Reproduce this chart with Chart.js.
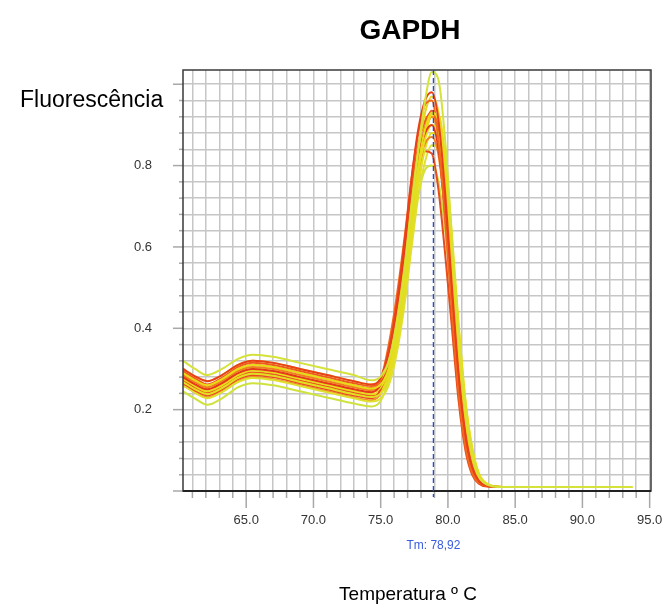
<!DOCTYPE html>
<html>
<head>
<meta charset="utf-8">
<script src="https://cdn.jsdelivr.net/npm/chart.js@4/dist/chart.umd.min.js"></script>
<style>
  html, body { margin: 0; padding: 0; background: #fff; }
  #wrap { position: relative; width: 664px; height: 614px; }
</style>
</head>
<body>
<div id="wrap"><canvas id="c" width="664" height="614"></canvas></div>
<script>
// temperaturas (eixo x)
const temps = [60.3, 61.2, 62.1, 63.2, 64.4, 65.5, 67, 69, 71, 73, 74.3, 75.0, 75.6, 76.2, 76.8, 77.3, 77.8, 78.3, 78.8, 79.3, 79.8, 80.3, 80.8, 81.3, 81.8, 82.3, 82.9, 84, 87, 90, 93.7];
const tempsR = [60.3, 61.2, 62.1, 63.2, 64.4, 65.5, 67, 69, 71, 73, 74.3, 75.0, 75.6, 76.2, 76.8, 77.3, 77.8, 78.3, 78.8, 79.3, 79.8, 80.3, 80.8, 81.3, 81.8, 82.3, 82.9, 84, 87, 90, 92.9];

// curvas de melting
const r1 = [0.280,0.262,0.250,0.265,0.290,0.300,0.295,0.280,0.265,0.250,0.243,0.262,0.330,0.440,0.590,0.720,0.820,0.880,0.900,0.840,0.680,0.470,0.270,0.130,0.055,0.022,0.012,0.010,0.010,0.010,0.010];
const r2 = [0.290,0.272,0.260,0.275,0.300,0.310,0.305,0.290,0.275,0.260,0.253,0.275,0.360,0.480,0.630,0.770,0.880,0.950,0.960,0.860,0.660,0.440,0.240,0.110,0.045,0.020,0.012,0.010,0.010,0.010,0.010];
const r3 = [0.265,0.247,0.235,0.250,0.275,0.285,0.280,0.265,0.250,0.235,0.228,0.250,0.320,0.440,0.580,0.700,0.790,0.835,0.830,0.740,0.580,0.400,0.220,0.100,0.040,0.018,0.011,0.010,0.010,0.010,0.010];
const r4 = [0.300,0.282,0.270,0.285,0.310,0.320,0.315,0.300,0.285,0.270,0.262,0.278,0.345,0.460,0.620,0.770,0.890,0.960,0.980,0.910,0.730,0.500,0.285,0.140,0.060,0.025,0.013,0.010,0.010,0.010,0.010];
const r5 = [0.260,0.242,0.230,0.245,0.270,0.280,0.275,0.260,0.245,0.230,0.223,0.240,0.300,0.410,0.560,0.700,0.810,0.880,0.920,0.870,0.720,0.510,0.300,0.150,0.065,0.027,0.013,0.010,0.010,0.010,0.010];
const r6 = [0.285,0.267,0.255,0.270,0.295,0.305,0.300,0.285,0.270,0.255,0.248,0.262,0.325,0.430,0.575,0.705,0.800,0.855,0.870,0.825,0.680,0.480,0.285,0.140,0.060,0.024,0.012,0.010,0.010,0.010,0.010];
const r7 = [0.272,0.254,0.242,0.257,0.282,0.292,0.287,0.272,0.257,0.242,0.235,0.250,0.305,0.405,0.550,0.695,0.815,0.895,0.935,0.900,0.760,0.550,0.330,0.170,0.075,0.030,0.014,0.010,0.010,0.010,0.010];
const r8 = [0.295,0.277,0.262,0.278,0.305,0.315,0.310,0.295,0.280,0.265,0.258,0.272,0.340,0.455,0.605,0.745,0.850,0.910,0.930,0.880,0.730,0.520,0.310,0.155,0.066,0.027,0.013,0.010,0.010,0.010,0.010];

const y1 = [0.320,0.300,0.285,0.300,0.325,0.335,0.330,0.315,0.300,0.285,0.272,0.282,0.320,0.410,0.550,0.700,0.840,0.960,1.030,1.010,0.860,0.620,0.380,0.200,0.090,0.036,0.016,0.010,0.010,0.010,0.010];
const y2 = [0.245,0.227,0.212,0.228,0.255,0.265,0.260,0.245,0.230,0.215,0.208,0.222,0.275,0.370,0.500,0.630,0.730,0.790,0.800,0.760,0.640,0.460,0.280,0.140,0.060,0.025,0.012,0.010,0.010,0.010,0.010];
const y3 = [0.290,0.272,0.260,0.275,0.300,0.310,0.305,0.290,0.275,0.260,0.252,0.262,0.300,0.390,0.525,0.670,0.800,0.890,0.930,0.910,0.790,0.590,0.370,0.195,0.088,0.035,0.015,0.010,0.010,0.010,0.010];
const y4 = [0.268,0.250,0.238,0.253,0.278,0.288,0.283,0.268,0.253,0.238,0.231,0.240,0.275,0.360,0.490,0.630,0.755,0.840,0.880,0.870,0.770,0.590,0.380,0.205,0.095,0.038,0.016,0.010,0.010,0.010,0.010];
const y5 = [0.300,0.282,0.270,0.285,0.310,0.320,0.315,0.300,0.285,0.270,0.262,0.275,0.320,0.420,0.560,0.710,0.840,0.930,0.970,0.930,0.780,0.560,0.340,0.175,0.078,0.032,0.014,0.010,0.010,0.010,0.010];
const y6 = [0.260,0.242,0.228,0.243,0.268,0.278,0.273,0.258,0.243,0.228,0.220,0.228,0.260,0.340,0.465,0.600,0.725,0.810,0.850,0.845,0.760,0.600,0.400,0.220,0.105,0.042,0.017,0.010,0.010,0.010,0.010];
const y7 = [0.280,0.262,0.250,0.265,0.290,0.300,0.295,0.280,0.265,0.250,0.243,0.255,0.300,0.390,0.525,0.665,0.785,0.865,0.900,0.875,0.750,0.550,0.340,0.180,0.080,0.032,0.014,0.010,0.010,0.010,0.010];
const y8 = [0.276,0.258,0.245,0.260,0.285,0.296,0.291,0.276,0.261,0.246,0.238,0.246,0.285,0.370,0.500,0.645,0.775,0.870,0.925,0.925,0.820,0.630,0.410,0.225,0.108,0.044,0.018,0.010,0.010,0.010,0.010];

const tm = 78.92;

// ordem: o primeiro fica por cima
const series = [
  [y1, '#d4e23a', temps], [r4, '#e8401c', tempsR], [y3, '#e8dc18', temps], [r2, '#f06a1e', tempsR],
  [y5, '#ecd21a', temps], [r1, '#e6381a', tempsR], [y7, '#e4e020', temps], [r6, '#f0801e', tempsR],
  [y4, '#e2de22', temps], [r3, '#e84c1c', tempsR], [y8, '#eadc1c', temps], [r8, '#ee5a1c', tempsR],
  [y6, '#dfe030', temps], [r5, '#f29020', tempsR], [r7, '#ea5a1c', tempsR], [y2, '#cfe23e', temps]
];

const datasets = series.map(function (s, i) {
  return {
    label: 'amostra ' + (i + 1),
    data: s[2].map(function (t, j) { return { x: t, y: s[0][j] }; }),
    borderColor: s[1],
    borderWidth: 2,
    pointRadius: 0,
    cubicInterpolationMode: 'monotone',
    fill: false
  };
});

const extras = {
  id: 'extras',
  afterDraw(chart) {
    const ctx = chart.ctx;
    const a = chart.chartArea;
    const x = chart.scales.x, y = chart.scales.y;
    ctx.save();
    // marcas dos eixos
    ctx.strokeStyle = '#a8a8a8';
    ctx.lineWidth = 1.5;
    x.ticks.forEach(function (t) {
      const px = x.getPixelForValue(t.value);
      const len = t.value % 5 === 0 ? 17 : 7;
      ctx.beginPath(); ctx.moveTo(px, a.bottom); ctx.lineTo(px, a.bottom + len); ctx.stroke();
    });
    y.ticks.forEach(function (t) {
      const py = y.getPixelForValue(t.value);
      const major = Math.round(t.value * 100) % 20 === 0;
      const len = major ? 10 : 4;
      ctx.beginPath(); ctx.moveTo(a.left - len, py); ctx.lineTo(a.left, py); ctx.stroke();
    });
    // moldura
    ctx.strokeStyle = '#3a3a3a';
    ctx.lineWidth = 1.5;
    ctx.strokeRect(a.left, a.top, a.right - a.left, a.bottom - a.top);
    ctx.strokeStyle = '#222';
    ctx.lineWidth = 2;
    ctx.beginPath(); ctx.moveTo(a.left, a.bottom); ctx.lineTo(a.right, a.bottom); ctx.stroke();
    // linha Tm
    const tx = x.getPixelForValue(tm);
    ctx.strokeStyle = '#2448e0';
    ctx.lineWidth = 1.3;
    ctx.setLineDash([5, 3]);
    ctx.beginPath(); ctx.moveTo(tx, a.top); ctx.lineTo(tx, a.bottom + 6); ctx.stroke();
    ctx.setLineDash([]);
    ctx.fillStyle = '#3a5ce0';
    ctx.font = '12px "Liberation Sans", Arial, sans-serif';
    ctx.textAlign = 'center';
    ctx.textBaseline = 'middle';
    ctx.fillText('Tm: ' + tm.toFixed(2).replace('.', ','), tx, 546);
    // textos
    ctx.fillStyle = '#000';
    ctx.font = 'bold 28px "Liberation Sans", Arial, sans-serif';
    ctx.fillText('GAPDH', 410, 31);
    ctx.font = '23px "Liberation Sans", Arial, sans-serif';
    ctx.textAlign = 'left';
    ctx.fillText('Fluorescência', 20, 101);
    ctx.textAlign = 'center';
    ctx.font = '19px "Liberation Sans", Arial, sans-serif';
    ctx.fillText('Temperatura º C', 408, 595);
    ctx.restore();
  }
};

const tickFont = { family: '"Liberation Sans", Arial, sans-serif', size: 13 };

new Chart(document.getElementById('c'), {
  type: 'line',
  data: { datasets: datasets },
  options: {
    responsive: false,
    animation: false,
    layout: { padding: { left: 133, top: 70, right: 13, bottom: 87 } },
    plugins: { legend: { display: false }, tooltip: { enabled: false } },
    scales: {
      x: {
        type: 'linear',
        min: 60.3,
        max: 95.1,
        border: { display: false },
        grid: { color: '#c6c6c6', lineWidth: 1.5, drawTicks: false },
        afterFit: function (s) { s.height = 36; s.paddingLeft = 0; s.paddingRight = 0; },
        ticks: {
          stepSize: 1,
          includeBounds: false,
          autoSkip: false,
          maxRotation: 0,
          padding: 22,
          color: '#333',
          font: tickFont,
          callback: function (v) { return v % 5 === 0 ? v.toFixed(1) : ''; }
        }
      },
      y: {
        min: 0,
        max: 1.035,
        border: { display: false },
        grid: { color: '#c6c6c6', lineWidth: 1.5, drawTicks: false },
        afterFit: function (s) { s.width = 50; s.paddingTop = 0; s.paddingBottom = 0; },
        ticks: {
          stepSize: 0.04,
          includeBounds: false,
          autoSkip: false,
          padding: 31,
          color: '#333',
          font: tickFont,
          callback: function (v) {
            const k = Math.round(v * 100);
            return (k > 0 && k < 100 && k % 20 === 0) ? v.toFixed(1) : '';
          }
        }
      }
    }
  },
  plugins: [extras]
});
</script>
</body>
</html>
